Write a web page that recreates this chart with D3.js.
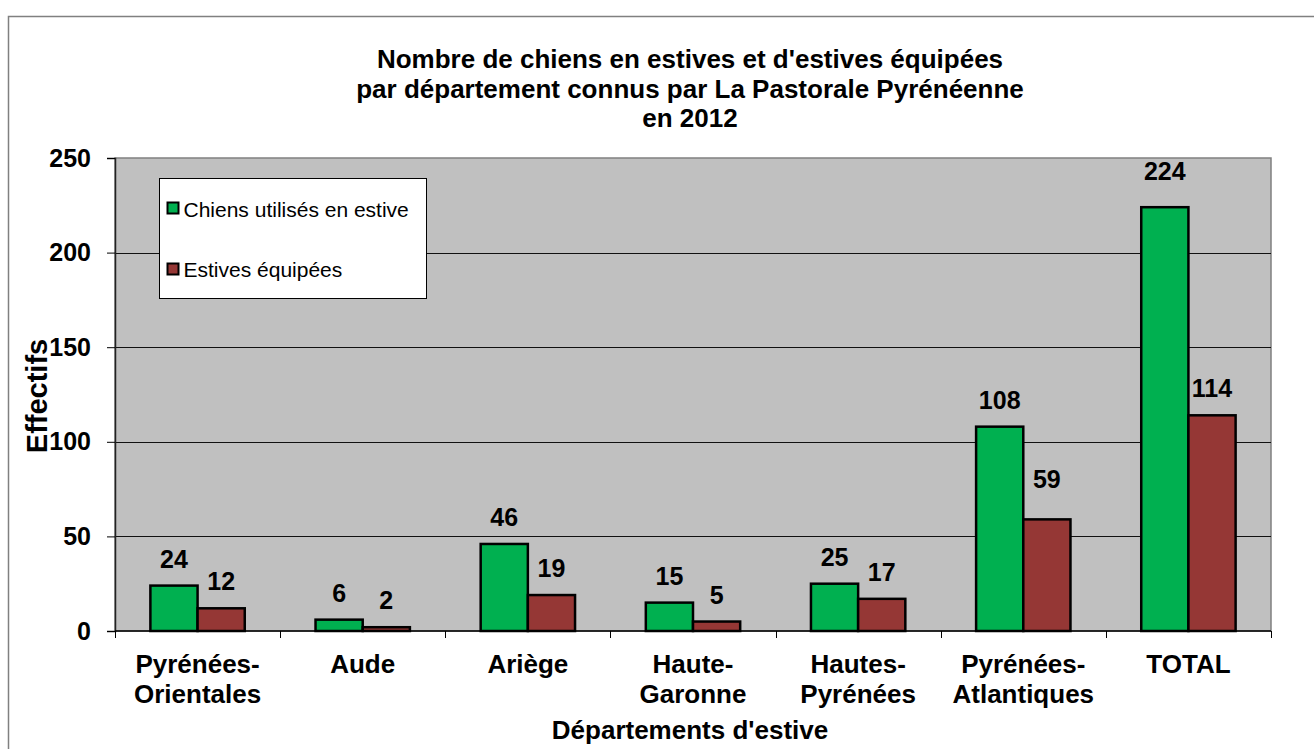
<!DOCTYPE html>
<html>
<head>
<meta charset="utf-8">
<script src="https://cdn.jsdelivr.net/npm/d3@7"></script>
<style>
  body { margin: 0; background: #fff; }
  svg { font-family: "Liberation Sans", Arial, sans-serif; }
</style>
</head>
<body>
<div id="chart"></div>
<script>
const WIDTH = 1314;
const HEIGHT = 749;

const MARGIN = { TOP: 158, RIGHT: 43, BOTTOM: 118, LEFT: 115 };

const departements = [
  ["Pyrénées-", "Orientales"],
  ["Aude"],
  ["Ariège"],
  ["Haute-", "Garonne"],
  ["Hautes-", "Pyrénées"],
  ["Pyrénées-", "Atlantiques"],
  ["TOTAL"],
];
const chiens = [24, 6, 46, 15, 25, 108, 224];
const estives = [12, 2, 19, 5, 17, 59, 114];
const seriesNames = ["Chiens utilisés en estive", "Estives équipées"];
const colors = ["#00b050", "#953735"];
const yTicks = [0, 50, 100, 150, 200, 250];

const innerW = WIDTH - MARGIN.LEFT - MARGIN.RIGHT;
const innerH = HEIGHT - MARGIN.TOP - MARGIN.BOTTOM;

// a couple of labels sit higher than the others in the original
const labelLift = { "0-6": 9, "1-5": 13 };

const svg = d3
  .select("#chart")
  .append("svg")
  .attr("width", WIDTH)
  .attr("height", HEIGHT);

// outer chart frame
svg
  .append("rect")
  .attr("x", 8.5)
  .attr("y", 16.5)
  .attr("width", WIDTH + 10)
  .attr("height", HEIGHT)
  .style("fill", "#fff")
  .style("stroke", "#808080")
  .style("stroke-width", 1.5);

// title
const title = svg
  .append("text")
  .attr("x", 690)
  .attr("text-anchor", "middle")
  .style("font-size", "26px")
  .style("font-weight", "bold");
["Nombre de chiens en estives et d'estives équipées",
 "par département connus par La Pastorale Pyrénéenne",
 "en 2012"].forEach((t, i) => {
  title.append("tspan").attr("x", 690).attr("y", 68 + i * 29.5).text(t);
});

const g = svg
  .append("g")
  .attr("transform", `translate(${MARGIN.LEFT}, ${MARGIN.TOP})`);

const x = d3
  .scaleBand()
  .domain(d3.range(departements.length))
  .range([0, innerW]);
const x1 = d3
  .scaleBand()
  .domain([0, 1])
  .range([0, x.bandwidth()])
  .paddingOuter(0.75)
  .paddingInner(0);
const y = d3.scaleLinear().domain([0, 250]).range([innerH, 0]);

// plot background
g.append("rect")
  .attr("width", innerW)
  .attr("height", innerH)
  .style("fill", "#c0c0c0")
  .style("stroke", "#808080")
  .style("stroke-width", 1.5);

// gridlines
g.append("g")
  .selectAll("line")
  .data(yTicks.filter((d) => d > 0 && d < 250))
  .enter()
  .append("line")
  .attr("x1", 0)
  .attr("x2", innerW)
  .attr("y1", (d) => Math.round(y(d)) + 0.5)
  .attr("y2", (d) => Math.round(y(d)) + 0.5)
  .style("stroke", "#111")
  .style("stroke-width", 1);

// y axis
g.append("g")
  .attr("class", "yAxis")
  .call(d3.axisLeft(y).tickValues(yTicks).tickSize(8).tickPadding(16))
  .call((a) => {
    a.select(".domain").style("stroke", "#222").style("stroke-width", 1.5);
    a.selectAll("line").style("stroke", "#000");
    a.selectAll("text")
      .style("font-size", "25px")
      .style("font-weight", "bold")
      .style("font-family", "Liberation Sans, Arial, sans-serif")
      .style("fill", "#000");
  });

// x axis line and ticks
const xAxis = g.append("g").attr("transform", `translate(0, ${innerH})`);
xAxis
  .append("line")
  .attr("x1", 0)
  .attr("x2", innerW)
  .style("stroke", "#000")
  .style("stroke-width", 1.5);
xAxis
  .selectAll(".tick")
  .data(d3.range(departements.length + 1))
  .enter()
  .append("line")
  .attr("x1", (d) => Math.round(d * x.step()) + 0.5)
  .attr("x2", (d) => Math.round(d * x.step()) + 0.5)
  .attr("y1", 0)
  .attr("y2", 7)
  .style("stroke", "#000");

// category labels
departements.forEach((lines, i) => {
  const t = xAxis
    .append("text")
    .attr("text-anchor", "middle")
    .style("font-size", "26px")
    .style("font-weight", "bold");
  lines.forEach((l, j) => {
    t.append("tspan")
      .attr("x", x(i) + x.bandwidth() / 2)
      .attr("y", 42 + j * 30)
      .text(l);
  });
});

// bars
const series = [chiens, estives];
series.forEach((vals, s) => {
  g.append("g")
    .selectAll("rect")
    .data(vals)
    .enter()
    .append("rect")
    .attr("x", (d, i) => x(i) + x1(s))
    .attr("y", (d) => y(d))
    .attr("width", x1.bandwidth())
    .attr("height", (d) => innerH - y(d))
    .style("fill", colors[s])
    .style("stroke", "#000")
    .style("stroke-width", 2.5);

  g.append("g")
    .selectAll("text")
    .data(vals)
    .enter()
    .append("text")
    .attr("x", (d, i) => x(i) + x1(s) + x1.bandwidth() / 2)
    .attr("y", (d, i) => y(d) - 18 - (labelLift[`${s}-${i}`] || 0))
    .attr("text-anchor", "middle")
    .style("font-size", "25px")
    .style("font-weight", "bold")
    .text((d) => d);
});

// axis titles
svg
  .append("text")
  .attr("x", 690)
  .attr("y", 739)
  .attr("text-anchor", "middle")
  .style("font-size", "26px")
  .style("font-weight", "bold")
  .text("Départements d'estive");

svg
  .append("text")
  .attr("transform", "translate(47, 396) rotate(-90)")
  .attr("text-anchor", "middle")
  .style("font-size", "29px")
  .style("font-weight", "bold")
  .text("Effectifs");

// legend
const legend = svg.append("g").attr("transform", "translate(159.5, 178.5)");
legend
  .append("rect")
  .attr("width", 267)
  .attr("height", 120)
  .style("fill", "#fff")
  .style("stroke", "#000")
  .style("stroke-width", 1);
seriesNames.forEach((name, i) => {
  legend
    .append("rect")
    .attr("x", 8)
    .attr("y", 24 + i * 61)
    .attr("width", 11)
    .attr("height", 11)
    .style("fill", colors[i])
    .style("stroke", "#000")
    .style("stroke-width", 2);
  legend
    .append("text")
    .attr("x", 24)
    .attr("y", 38.5 + i * 60)
    .style("font-size", "21px")
    .text(name);
});
</script>
</body>
</html>
